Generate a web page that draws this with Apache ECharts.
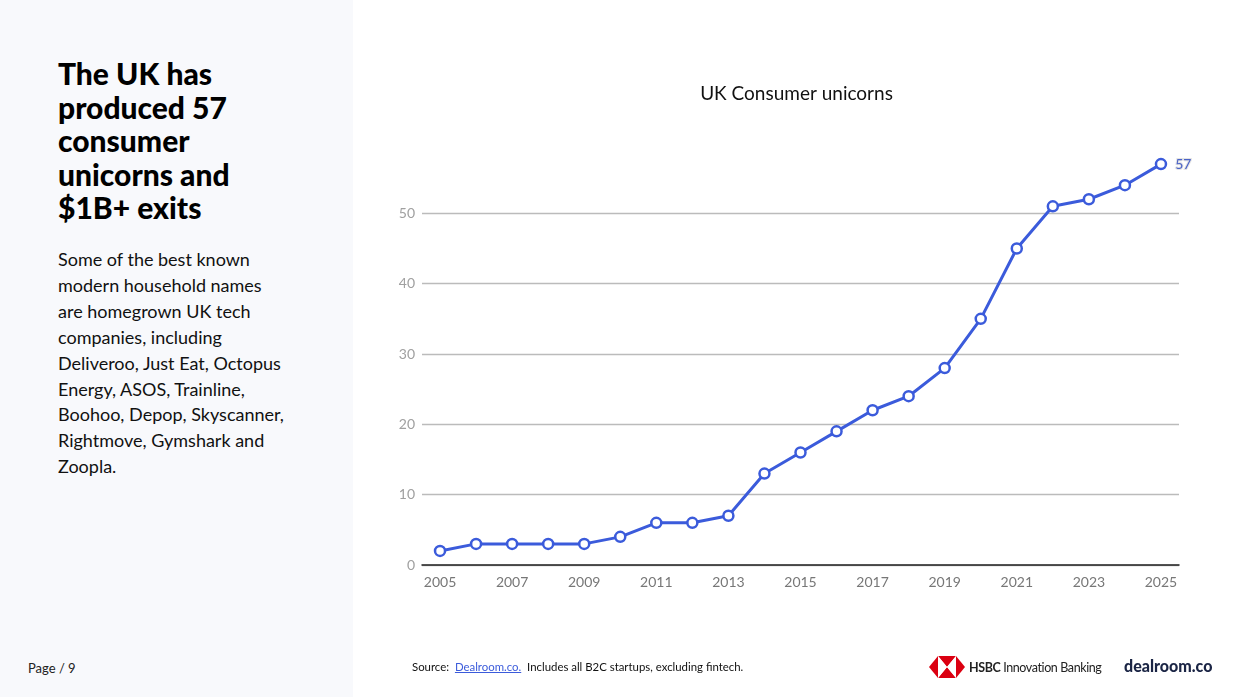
<!DOCTYPE html>
<html>
<head>
<meta charset="utf-8">
<script src="https://cdn.jsdelivr.net/npm/echarts@6/dist/echarts.min.js"></script>
<style>
  html, body { margin: 0; padding: 0; width: 1240px; height: 697px; background: #fff; overflow: hidden; font-family: Lato, "Noto Sans", sans-serif; }
  .side { position: absolute; left: 0; top: 0; width: 353px; height: 697px; background: #f8f9fc; }
  .side h1 { position: absolute; left: 58px; top: 57px; margin: 0; font-size: 30px; line-height: 33.5px; font-weight: 900; color: #000; white-space: nowrap; }
  .side p { position: absolute; left: 58px; top: 247px; margin: 0; font-size: 18px; line-height: 25.9px; color: #111; white-space: nowrap; }
  .page { position: absolute; left: 28px; top: 660px; font-size: 13px; color: #222; }
  #chart { position: absolute; left: 353px; top: 0; width: 887px; height: 697px; }
  .source { position: absolute; left: 412px; top: 660px; font-size: 11.4px; color: #111; }
  .source a { color: #3b5bdb; text-decoration: underline; }
  .logos { position: absolute; left: 929px; top: 655px; height: 24px; display: flex; align-items: center; }
  .hsbc { font-size: 12.5px; color: #222; margin-left: 4px; letter-spacing: -0.4px; }
  .hsbc b { font-weight: 700; }
  .dealroom { position: absolute; left: 1124px; top: 656px; font-size: 16px; font-weight: 900; color: #1b2545; }
</style>
</head>
<body>
<div class="side">
  <h1>The UK has<br>produced 57<br>consumer<br>unicorns and<br>$1B+ exits</h1>
  <p>Some of the best known<br>modern household names<br>are homegrown UK tech<br>companies, including<br>Deliveroo, Just Eat, Octopus<br>Energy, ASOS, Trainline,<br>Boohoo, Depop, Skyscanner,<br>Rightmove, Gymshark and<br>Zoopla.</p>
</div>
<div class="page">Page / 9</div>
<div id="chart"></div>
<div class="source">Source:&nbsp; <a>Dealroom.co.</a>&nbsp; Includes all B2C startups, excluding fintech.</div>
<div class="logos">
  <svg width="36" height="22" viewBox="0 0 36 22">
    <polygon points="0,11 9,0 9,22" fill="#db0011"/>
    <polygon points="36,11 27,0 27,22" fill="#db0011"/>
    <polygon points="9,0 27,0 18,11" fill="#db0011"/>
    <polygon points="9,22 27,22 18,11" fill="#db0011"/>
    <polygon points="9,0 18,11 9,22" fill="#fff"/>
    <polygon points="27,0 18,11 27,22" fill="#fff"/>
  </svg>
  <span class="hsbc"><b>HSBC</b> Innovation Banking</span>
</div>
<div class="dealroom">dealroom.co</div>
<script>
  // 年份（横轴类目）
  const years = ['2005','2006','2007','2008','2009','2010','2011','2012','2013','2014','2015',
                 '2016','2017','2018','2019','2020','2021','2022','2023','2024','2025'];
  // 累计独角兽数量
  const unicorns = [2, 3, 3, 3, 3, 4, 6, 6, 7, 13, 16, 19, 22, 24, 28, 35, 45, 51, 52, 54, 57];
  const chartTitle = 'UK Consumer unicorns';

  const blue = '#3b5bdb';
  const chart = echarts.init(document.getElementById('chart'));

  chart.setOption({
    animation: false,
    title: {
      text: chartTitle,
      left: 'center',
      top: 79,
      textStyle: { fontFamily: 'Lato', fontSize: 19, fontWeight: 'normal', color: '#111' }
    },
    grid: { left: 69, right: 61, top: 143, bottom: 132 },
    xAxis: {
      type: 'category',
      data: years,
      boundaryGap: true,
      axisLine: { lineStyle: { color: '#222', width: 1.5 } },
      axisTick: { show: false },
      axisLabel: { interval: 1, color: '#777', fontSize: 14, fontFamily: 'Lato', margin: 10 }
    },
    yAxis: {
      type: 'value',
      min: 0,
      max: 60,
      interval: 10,
      axisLine: { show: false },
      axisTick: { show: false },
      axisLabel: { showMaxLabel: false, color: '#a0a0a0', fontSize: 14, fontFamily: 'Lato', margin: 7 },
      splitLine: { lineStyle: { color: ['#bbb', '#bbb', '#bbb', '#bbb', '#bbb', '#bbb', 'rgba(0,0,0,0)'], width: 1.3 } }
    },
    series: [{
      type: 'line',
      data: unicorns,
      symbol: 'circle',
      symbolSize: 10,
      lineStyle: { color: blue, width: 3 },
      itemStyle: { color: '#fff', borderColor: blue, borderWidth: 2.5 },
      label: {
        show: true,
        position: 'right',
        distance: 8,
        color: '#4a63c8',
        fontSize: 14,
        fontFamily: 'Lato',
        textBorderColor: '#e3e3e3',
        textBorderWidth: 2,
        formatter: p => (p.dataIndex === unicorns.length - 1 ? p.value : '')
      }
    }]
  });
</script>
</body>
</html>
